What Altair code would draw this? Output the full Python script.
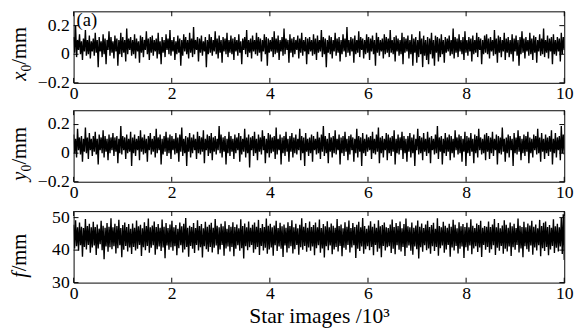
import altair as alt
import numpy as np
import pandas as pd

# ---- data (coarse resampling of the noisy series) ----
# x0 and y0 in units of 0.01 mm, f in units of 0.1 mm
x0_hundredth_mm = [
    12, 1, 20, -2, 10, 3, 14, 0, 9, -4, 11, 2, 17, -1, 10, 0, 13, -3, 9, 2,
    11, -1, 15, 1, 10, -9, 12, 2, 9, -2, 14, 0, 11, -7, 10, 3, 16, -1, 12, 1,
    9, -3, 13, 2, 11, -8, 10, 0, 15, -2, 12, 1, 10, -5, 18, 0, 11, 3, 12, -1,
    10, 0, 14, -3, 11, 2, 9, -6, 13, 1, 12, -2, 10, 3, 16, 0, 11, -4, 12, 1,
    13, -1, 10, 2, 11, -3, 15, 0, 9, -7, 12, 1, 10, -2, 14, 3, 11, 0, 17, -1,
    10, 2, 12, -4, 9, 0, 13, 1, 11, -8, 10, -1, 14, 2, 12, 0, 10, -3, 15, 1,
    11, -2, 19, 0, 10, 3, 12, -5, 11, 1, 13, -1, 9, 2, 12, -9, 10, 0, 14, 1,
    12, -1, 10, 2, 16, 0, 11, -3, 13, 1, 10, -6, 12, 2, 11, 0, 15, -2, 10, 1,
    13, 0, 11, -4, 12, 2, 10, -1, 14, 1, 9, -7, 11, 3, 12, 0, 17, -2, 10, 1,
    11, -3, 13, 2, 10, 0, 15, -1, 12, 1, 11, -5, 10, 2, 14, 0, 12, -8, 11, 1,
    10, 2, 12, -2, 16, 0, 11, 1, 13, -4, 10, 2, 12, -1, 18, 0, 11, 3, 10, -6,
    14, 1, 11, -2, 12, 0, 10, 3, 13, -3, 11, 1, 15, -1, 10, 2, 12, -7, 11, 0,
    12, 2, 10, -1, 14, 0, 11, -4, 13, 1, 10, 2, 17, -2, 12, 0, 11, -9, 10, 1,
    13, 0, 12, -3, 10, 2, 15, -1, 11, 1, 12, -5, 10, 0, 14, 2, 11, -2, 19, 1,
    10, -1, 12, 2, 11, -6, 13, 0, 10, 1, 16, -2, 12, 3, 11, -3, 10, 0, 14, 1,
    12, -4, 11, 2, 13, 0, 10, -8, 15, 1, 12, -1, 10, 2, 11, -3, 14, 0, 12, 1,
    11, -2, 17, 1, 10, 0, 12, -5, 13, 2, 11, -1, 10, 0, 15, -7, 12, 1, 11, 2,
    13, -3, 10, 0, 14, -8, 11, 1, 12, -6, 10, -2, 16, 0, 11, -9, 13, -1, 10, -4,
    12, -7, 11, 0, 15, -3, 10, -8, 13, 1, 12, -5, 11, -2, 14, 0, 10, -6, 12, 1,
    11, 2, 13, -1, 10, 0, 18, -3, 12, 1, 11, -2, 14, 2, 10, 0, 12, -4, 16, 1,
    10, -1, 12, 2, 11, -5, 13, 0, 10, 1, 15, -2, 12, 3, 11, -7, 10, 0, 13, 1,
    14, 0, 11, -3, 12, 2, 10, -1, 17, 0, 11, -6, 13, 1, 12, -2, 10, 2, 15, -4,
    11, 1, 12, -2, 10, 0, 14, -5, 11, 2, 13, -1, 10, -8, 12, 0, 16, 1, 11, -3,
    12, 2, 10, -1, 15, 0, 11, -4, 13, 1, 12, -6, 10, 2, 14, -1, 11, 0, 18, -2,
    10, 1, 13, -3, 11, 2, 12, -7, 14, 0, 10, -1, 12, 2, 11, -5, 15, 0, 12, 3,
]
y0_hundredth_mm = [
    13, 0, 10, -3, 17, 2, 11, -1, 12, -6, 10, 1, 18, 0, 11, -4, 14, 2, 10, -2,
    12, 1, 15, -1, 10, -8, 13, 2, 11, 0, 16, -3, 12, 1, 10, -5, 13, 0, 11, 2,
    14, -2, 11, 1, 12, -7, 10, 0, 19, -1, 12, 2, 11, -4, 13, 0, 10, 1, 15, -9,
    11, 0, 13, -2, 10, 2, 12, -5, 16, 1, 11, -1, 13, 0, 10, -6, 12, 2, 14, -1,
    10, 1, 12, -3, 17, 0, 11, 2, 13, -8, 10, -1, 12, 1, 15, -2, 11, 0, 13, -4,
    12, 2, 10, -1, 14, 0, 11, -6, 13, 1, 18, -2, 10, 0, 12, -9, 11, 1, 14, -3,
    11, 0, 13, 2, 10, -4, 15, 0, 12, -1, 11, 1, 16, -7, 10, 2, 13, -2, 12, 0,
    14, -5, 11, 1, 12, -1, 10, 2, 19, 0, 13, -3, 11, 1, 12, -8, 10, 0, 15, -2,
    12, 1, 10, -4, 13, 0, 11, 2, 14, -6, 12, -1, 10, 1, 17, -3, 11, 0, 13, -10,
    11, 2, 12, -2, 15, 0, 10, -5, 13, 1, 11, -1, 16, 2, 12, -7, 10, 0, 14, -3,
    13, 0, 11, 1, 12, -4, 18, -1, 10, 2, 13, -8, 11, 0, 12, -2, 15, 1, 10, -6,
    12, 1, 14, -3, 11, 0, 13, -1, 10, 2, 17, -5, 12, 0, 11, -9, 14, 1, 10, -2,
    11, 0, 13, -6, 12, 2, 10, -1, 15, 0, 11, -4, 13, 1, 19, -2, 12, 0, 10, -7,
    14, 1, 11, -3, 12, 0, 16, -1, 10, 2, 13, -8, 11, 0, 12, -2, 15, 1, 10, -5,
    12, -1, 13, 2, 11, -6, 10, 0, 17, -3, 12, 1, 11, -9, 14, 0, 10, -2, 13, 1,
    11, 2, 12, -4, 15, 0, 10, -1, 13, 1, 18, -7, 11, 0, 12, -3, 10, 2, 14, -5,
    13, 0, 11, -2, 12, 1, 16, -8, 10, 0, 13, -1, 11, 2, 15, -4, 12, 0, 10, -6,
    12, 1, 14, -3, 11, 0, 13, -9, 10, 2, 17, -1, 12, 0, 11, -5, 14, 1, 10, -2,
    15, 0, 11, -7, 12, 2, 10, -1, 13, 0, 19, -4, 11, 1, 12, -8, 10, 0, 14, -2,
    11, 1, 13, -5, 12, 0, 10, -3, 16, 2, 11, -1, 13, 0, 12, -6, 10, 1, 15, -9,
    12, 0, 11, -2, 14, 1, 10, -7, 13, 0, 12, -3, 17, 2, 11, -1, 10, 0, 13, -5,
    14, 1, 12, -4, 11, 0, 15, -2, 10, 2, 13, -8, 12, 0, 11, -1, 18, 1, 10, -6,
    11, 0, 13, -3, 12, 2, 10, -9, 14, 0, 11, -1, 16, 1, 12, -5, 10, 0, 13, -2,
    12, 1, 15, -7, 11, 0, 10, -3, 13, 2, 12, -1, 17, 0, 11, -6, 14, 1, 10, -4,
    13, 0, 11, -2, 12, 1, 16, -8, 10, 0, 14, -3, 11, 2, 12, -5, 19, 0, 13, -1,
]
f_tenth_mm = [
    478, 405, 492, 412, 470, 398, 485, 415, 472, 380, 468, 410, 496, 402, 474, 416, 481, 392, 470, 408,
    487, 414, 471, 385, 479, 405, 466, 418, 490, 400, 475, 372, 469, 411, 483, 395, 472, 409, 498, 403,
    470, 412, 481, 390, 474, 406, 493, 415, 468, 378, 477, 401, 485, 413, 471, 396, 480, 408, 466, 388,
    482, 410, 469, 399, 491, 404, 473, 416, 478, 382, 467, 409, 486, 400, 474, 413, 497, 392, 470, 407,
    476, 415, 488, 386, 471, 403, 480, 411, 469, 397, 494, 408, 472, 375, 483, 414, 468, 401, 479, 409,
    490, 398, 470, 412, 477, 384, 466, 406, 485, 415, 473, 393, 481, 402, 499, 410, 469, 380, 475, 413,
    471, 404, 483, 391, 468, 416, 492, 399, 474, 409, 480, 377, 467, 412, 487, 403, 472, 395, 478, 410,
    484, 393, 469, 407, 496, 414, 475, 387, 470, 402, 481, 416, 473, 383, 489, 405, 466, 411, 477, 396,
    472, 410, 486, 381, 471, 404, 479, 415, 467, 398, 495, 406, 474, 374, 482, 412, 470, 400, 488, 409,
    469, 416, 478, 392, 485, 403, 472, 410, 493, 385, 468, 413, 480, 399, 471, 407, 497, 389, 475, 402,
    481, 408, 470, 383, 476, 415, 490, 397, 468, 411, 484, 404, 473, 379, 479, 414, 469, 393, 486, 406,
    474, 412, 492, 390, 470, 403, 481, 416, 467, 386, 478, 409, 498, 401, 472, 413, 483, 395, 469, 408,
    488, 398, 471, 411, 477, 384, 485, 406, 470, 415, 494, 392, 468, 405, 480, 377, 473, 412, 489, 400,
    470, 414, 482, 387, 475, 402, 469, 410, 496, 396, 474, 413, 479, 381, 467, 407, 486, 401, 472, 416,
    491, 393, 468, 408, 483, 415, 471, 376, 478, 404, 487, 397, 470, 411, 499, 389, 474, 403, 466, 412,
    476, 400, 489, 410, 472, 384, 481, 416, 469, 395, 492, 405, 473, 378, 477, 413, 485, 399, 470, 409,
    468, 412, 479, 391, 494, 404, 471, 387, 483, 415, 474, 401, 488, 396, 467, 410, 480, 382, 497, 407,
    473, 414, 470, 398, 485, 386, 469, 411, 476, 403, 491, 374, 472, 409, 482, 395, 468, 415, 479, 400,
    490, 405, 471, 389, 477, 412, 484, 397, 466, 410, 498, 383, 474, 406, 470, 414, 487, 392, 475, 402,
    469, 416, 481, 380, 472, 408, 493, 399, 478, 413, 467, 390, 486, 404, 473, 411, 480, 376, 471, 409,
    484, 398, 470, 414, 495, 387, 475, 405, 468, 412, 482, 394, 477, 408, 490, 379, 469, 416, 474, 401,
    472, 410, 488, 392, 471, 403, 479, 415, 496, 385, 470, 407, 483, 398, 467, 413, 476, 389, 492, 404,
    478, 396, 469, 411, 485, 382, 473, 409, 481, 401, 468, 416, 497, 393, 475, 405, 471, 378, 487, 412,
    470, 403, 482, 395, 476, 414, 490, 386, 472, 408, 479, 399, 467, 415, 493, 381, 474, 406, 484, 397,
    488, 410, 471, 384, 477, 402, 469, 413, 495, 391, 473, 407, 481, 396, 470, 411, 499, 388, 510, 370,
]

x_ticks = [0, 2, 4, 6, 8, 10]
x_domain = [0, 10]
xy_ticks = [-0.2, 0, 0.2]
xy_tick_labels = ["\u22120.2", "0", "0.2"]
xy_domain = [-0.2, 0.3]
f_ticks = [30, 40, 50]
f_tick_labels = ["30", "40", "50"]
f_domain = [30, 52]

x_title = "Star images /10³"
panel_label = "(a)"

FONT = "Liberation Serif"
W, H = 501, 73
TICK = 5
TX = -49  # baseline of the rotated y titles, relative to plot left


def panel(values, ydomain, yticks, ylabels, title_parts, show_xtitle=False, label=None):
    n = len(values)
    df = pd.DataFrame({"k": np.linspace(x_domain[0], x_domain[1], n), "v": values})
    xscale = alt.Scale(domain=x_domain, nice=False, zero=False)
    yscale = alt.Scale(domain=ydomain, nice=False, zero=False)

    xaxis_kw = dict(values=x_ticks, format="~r", ticks=False, domain=False, grid=False,
                    labelFont=FONT, labelFontSize=18, labelColor="black",
                    labelPadding=2, labelFlush=False, labelOverlap=False)
    if show_xtitle:
        xaxis_kw.update(title=x_title, titleFont=FONT, titleFontSize=22,
                        titleFontWeight="normal", titleColor="black", titlePadding=4)
    else:
        xaxis_kw.update(title=None)

    line = alt.Chart(df).mark_line(color="black", strokeWidth=1.4, clip=True).encode(
        x=alt.X("k:Q", scale=xscale, axis=alt.Axis(**xaxis_kw)),
        y=alt.Y("v:Q", scale=yscale, axis=None),
    )

    xt = pd.DataFrame({"k": x_ticks})
    yt = pd.DataFrame({"v": yticks, "lab": ylabels})
    top_t = alt.Chart(xt).mark_rule(color="black", strokeWidth=1).encode(
        x=alt.X("k:Q", scale=xscale), y=alt.value(0), y2=alt.value(TICK))
    bot_t = alt.Chart(xt).mark_rule(color="black", strokeWidth=1).encode(
        x=alt.X("k:Q", scale=xscale), y=alt.value(H - TICK), y2=alt.value(H))
    left_t = alt.Chart(yt).mark_rule(color="black", strokeWidth=1).encode(
        y=alt.Y("v:Q", scale=yscale, axis=None), x=alt.value(0), x2=alt.value(TICK))
    right_t = alt.Chart(yt).mark_rule(color="black", strokeWidth=1).encode(
        y=alt.Y("v:Q", scale=yscale, axis=None), x=alt.value(W - TICK), x2=alt.value(W))
    ylab = alt.Chart(yt).mark_text(font=FONT, fontSize=18, align="right", baseline="middle",
                                   color="black").encode(
        y=alt.Y("v:Q", scale=yscale, axis=None), x=alt.value(-4), text="lab:N")

    layers = [line, top_t, bot_t, left_t, right_t, ylab]

    # rotated y title composed of pieces (italic symbol, subscript, unit)
    ypos = H - title_parts["start"]
    for txt, size, style, dx, adv in title_parts["pieces"]:
        td = pd.DataFrame({"s": [txt]})
        layers.append(
            alt.Chart(td).mark_text(font=FONT, fontSize=size, fontStyle=style, angle=270,
                                    align="left", baseline="alphabetic", color="black").encode(
                text="s:N", x=alt.value(TX + dx), y=alt.value(ypos))
        )
        ypos -= adv

    if label:
        ld = pd.DataFrame({"s": [label]})
        layers.append(
            alt.Chart(ld).mark_text(font=FONT, fontSize=19, align="left", baseline="alphabetic",
                                    color="black").encode(
                text="s:N", x=alt.value(3), y=alt.value(15))
        )

    return alt.layer(*layers).properties(width=W, height=H)


x0_mm = [v / 100 for v in x0_hundredth_mm]
y0_mm = [v / 100 for v in y0_hundredth_mm]
f_mm = [v / 10 for v in f_tenth_mm]

NB = "\u00a0"
p1 = panel(x0_mm, xy_domain, xy_ticks, xy_tick_labels,
           {"start": 2, "pieces": [("x", 21, "italic", 0, 9.5), ("0", 14, "normal", 5, 7),
                                   (NB + "/mm", 21, "normal", 0, 0)]},
           label=panel_label)
p2 = panel(y0_mm, xy_domain, xy_ticks, xy_tick_labels,
           {"start": 1, "pieces": [("y", 21, "italic", 0, 9.5), ("0", 14, "normal", 5, 7),
                                   (NB + "/mm", 21, "normal", 0, 0)]})
p3 = panel(f_mm, f_domain, f_ticks, f_tick_labels,
           {"start": 5, "pieces": [("f", 21, "italic", 0, 6.5), (NB + "/mm", 21, "normal", 0, 0)]},
           show_xtitle=True)

chart = alt.vconcat(p1, p2, p3, spacing=6).properties(
    padding={"left": 0, "top": -1, "right": 2, "bottom": 0},
    background="white",
).configure_view(stroke="black", strokeWidth=1)

chart.save("out.html", embed_options={"renderer": "svg", "actions": False})
